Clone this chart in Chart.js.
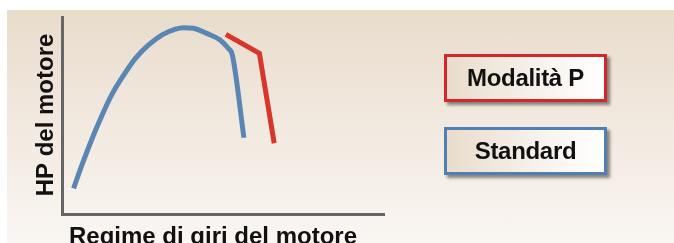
<!DOCTYPE html>
<html>
<head>
<meta charset="utf-8">
<script src="https://cdn.jsdelivr.net/npm/chart.js@4/dist/chart.umd.min.js"></script>
<style>
  html, body { margin: 0; padding: 0; background: #ffffff; }
  #wrap { position: relative; width: 674px; height: 243px; overflow: hidden; }
  #bg { position: absolute; left: 7px; top: 10px; right: 0; bottom: 0;
        background: linear-gradient(to bottom, #e8dccb 0%, #f2e9e0 50%, #faf6f2 100%); }
  #c { position: absolute; left: 0; top: 0; }
  .lbox { position: absolute; left: 444px; width: 157px; height: 42px;
          display: flex; align-items: center; justify-content: center;
          font-family: "Liberation Sans", Arial, sans-serif; font-weight: bold; font-size: 24px; color: #111;
          letter-spacing: -0.3px;
          background: linear-gradient(to right, #e8dccb 0%, #f6efe8 50%, #ffffff 100%);
          box-shadow: 3px 3px 3px rgba(0,0,0,0.45); }
</style>
</head>
<body>
<div id="wrap">
  <div id="bg"></div>
  <canvas id="c" width="674" height="243"></canvas>
  <div id="leg"></div>
</div>
<script>
// ---- data ----
const seriesNames = ["Standard", "Modalità P"];
const standardRpm = [3.6, 6.2, 9.3, 12.4, 15.5, 19.2, 22.8, 26.9, 31.1, 35.2, 37.7, 40.8, 44.9, 49.1, 51.6, 52.9, 56.5];
const standardHp  = [13.0, 24.9, 38.1, 50.0, 60.7, 70.6, 79.0, 85.8, 90.9, 93.8, 94.6, 94.3, 91.7, 88.3, 84.1, 80.7, 38.7];
const pModeRpm = [50.9, 61.3, 65.9];
const pModeHp  = [91.2, 81.6, 35.9];
const xTitle = "Regime di giri del motore";
const yTitle = "HP del motore";
const legendOrder = ["Modalità P", "Standard"];
const seriesColors = { "Standard": "#5a86b4", "Modalità P": "#d8362a" };

// legend boxes (HTML)
const legTops = [54, 127];
const leg = document.getElementById('leg');
legendOrder.forEach((name, i) => {
  const d = document.createElement('div');
  d.className = 'lbox';
  d.style.top = legTops[i] + 'px';
  d.style.border = '3px solid ' + (name === "Standard" ? "#4f7fb5" : "#d4272b");
  d.textContent = name;
  leg.appendChild(d);
});

const toPts = (xs, ys) => xs.map((x, i) => ({ x: x, y: ys[i] }));

const titlesPlugin = {
  id: 'axisTitles',
  afterDraw(chart) {
    const ctx = chart.ctx;
    ctx.save();
    ctx.fillStyle = '#111';
    ctx.font = 'bold 24px "Liberation Sans", Arial, sans-serif';
    ctx.textBaseline = 'alphabetic';
    ctx.textAlign = 'left';
    ctx.fillText(xTitle, 69, 244);
    ctx.translate(53, 115);
    ctx.rotate(-Math.PI / 2);
    ctx.textAlign = 'center';
    ctx.fillText(yTitle, 0, 0);
    ctx.restore();
  }
};

new Chart(document.getElementById('c'), {
  type: 'line',
  data: {
    datasets: [
      { label: seriesNames[0], data: toPts(standardRpm, standardHp), borderColor: seriesColors["Standard"],
        borderWidth: 5, pointRadius: 0, cubicInterpolationMode: 'monotone', fill: false,
        borderJoinStyle: 'round', borderCapStyle: 'butt' },
      { label: seriesNames[1], data: toPts(pModeRpm, pModeHp), borderColor: seriesColors["Modalità P"],
        borderWidth: 5, pointRadius: 0, tension: 0, fill: false, borderJoinStyle: 'miter', borderCapStyle: 'butt' }
    ]
  },
  options: {
    responsive: false,
    animation: false,
    events: [],
    layout: { padding: { left: 62, top: 17, right: 290, bottom: 29 } },
    plugins: { legend: { display: false }, tooltip: { enabled: false } },
    scales: {
      x: { type: 'linear', min: 0, max: 100,
           ticks: { display: false }, grid: { display: false, drawTicks: false },
           border: { display: true, color: '#666666', width: 3 } },
      y: { type: 'linear', min: 0, max: 100,
           ticks: { display: false }, grid: { display: false, drawTicks: false },
           border: { display: true, color: '#666666', width: 3 } }
    }
  },
  plugins: [titlesPlugin]
});
</script>
</body>
</html>
